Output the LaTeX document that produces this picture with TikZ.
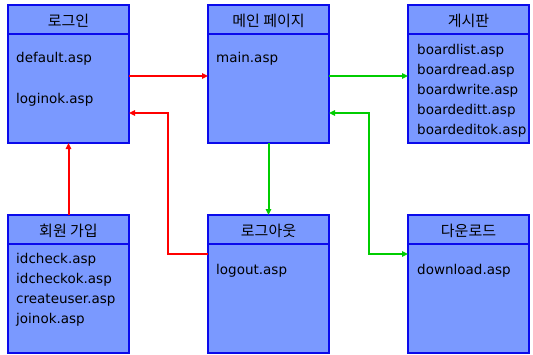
\documentclass[tikz,border=0pt]{standalone}
\usepackage{fontspec}
\setmainfont{DejaVu Sans}
\newfontfamily\krfont{Noto Sans CJK KR}
\usetikzlibrary{arrows.meta,calc}
\definecolor{boxfill}{RGB}{122,153,255}
\definecolor{boxdraw}{RGB}{10,10,235}
\definecolor{linkred}{RGB}{255,0,0}
\definecolor{linkgreen}{RGB}{0,205,0}
\tikzset{
  pagebox/.style={draw=boxdraw, fill=boxfill, line width=1.5pt, minimum width=121pt, minimum height=138pt, anchor=north west, inner sep=0pt, outer sep=0pt},
  boxtitle/.style={font=\krfont\fontsize{15}{18}\selectfont, inner sep=0pt},
  item/.style={font=\fontsize{13.5}{16}\selectfont, inner sep=0pt, anchor=base west},
  headline/.style={draw=boxdraw, line width=1.5pt},
  tip/.style={-{Triangle[length=6pt,width=5.5pt]}},
  redlink/.style={draw=linkred, line width=2pt, tip},
  greenlink/.style={draw=linkgreen, line width=2pt, tip},
}
\begin{document}
\begin{tikzpicture}[x=1pt,y=-1pt]
\useasboundingbox (0,0) rectangle (533,354);
% boxes
\node[pagebox] (b1) at (8,5) {};
\node[pagebox] (b2) at (208,5) {};
\node[pagebox] (b3) at (408,5) {};
\node[pagebox] (b4) at (8,215) {};
\node[pagebox] (b5) at (208,215) {};
\node[pagebox] (b6) at (408,215) {};
% header lines
\foreach \b in {b1,b2,b3,b4,b5,b6}
  \draw[headline] ($(\b.north west)+(0,29)$) -- ($(\b.north east)+(0,29)$);
% titles
\node[boxtitle] (t1) at ($(b1.north)+(0,16)$) {로그인};
\node[boxtitle] (t2) at ($(b2.north)+(0,16)$) {메인 페이지};
\node[boxtitle] (t3) at ($(b3.north)+(0,16)$) {게시판};
\node[boxtitle] (t4) at ($(b4.north)+(0,16)$) {회원 가입};
\node[boxtitle] (t5) at ($(b5.north)+(0,16)$) {로그아웃};
\node[boxtitle] (t6) at ($(b6.north)+(0,16)$) {다운로드};
% items
\node[item] (i11) at ($(b1.north west)+(8,57)$) {default.asp};
\node[item] (i12) at ($(b1.north west)+(8,98)$) {loginok.asp};
\node[item] (i21) at ($(b2.north west)+(8,57)$) {main.asp};
\node[item] (i31) at ($(b3.north west)+(9,49)$) {boardlist.asp};
\node[item] (i32) at ($(b3.north west)+(9,69)$) {boardread.asp};
\node[item] (i33) at ($(b3.north west)+(9,89)$) {boardwrite.asp};
\node[item] (i34) at ($(b3.north west)+(9,109)$) {boardeditt.asp};
\node[item] (i35) at ($(b3.north west)+(9,129)$) {boardeditok.asp};
\node[item] (i41) at ($(b4.north west)+(8,48)$) {idcheck.asp};
\node[item] (i42) at ($(b4.north west)+(8,68)$) {idcheckok.asp};
\node[item] (i43) at ($(b4.north west)+(8,88)$) {createuser.asp};
\node[item] (i44) at ($(b4.north west)+(8,108)$) {joinok.asp};
\node[item] (i51) at ($(b5.north west)+(8,59)$) {logout.asp};
\node[item] (i61) at ($(b6.north west)+(9,59)$) {download.asp};
% connectors
\draw[redlink] ($(b1.north east)+(0,71)$) -- ($(b2.north west)+(0,71)$);
\draw[redlink] ($(b5.north west)+(0,39)$) -- ++(-40,0) |- ($(b1.north east)+(0,108)$);
\draw[redlink] (b4.north) -- (b1.south);
\draw[greenlink] ($(b2.north east)+(0,71)$) -- ($(b3.north west)+(0,71)$);
\draw[greenlink] (b2.south) -- (b5.north);
\draw[greenlink, {Triangle[length=6pt,width=5.5pt]}-{Triangle[length=6pt,width=5.5pt]}] ($(b2.north east)+(0,108)$) -- ++(40,0) |- ($(b6.north west)+(0,39)$);
\end{tikzpicture}
\end{document}
